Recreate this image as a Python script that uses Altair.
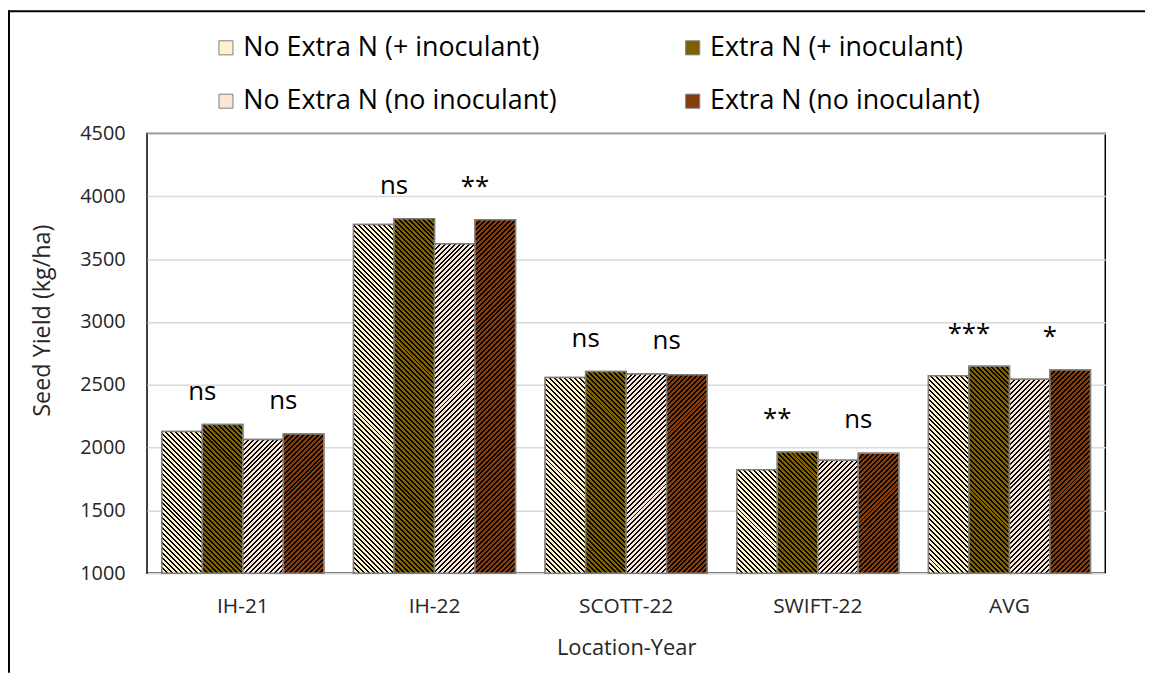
import math
import altair as alt
import pandas as pd

# ---------------- data ----------------
locations = ["IH-21", "IH-22", "SCOTT-22", "SWIFT-22", "AVG"]
series_names = [
    "No Extra N (+ inoculant)",
    "Extra N (+ inoculant)",
    "No Extra N (no inoculant)",
    "Extra N (no inoculant)",
]
no_extra_ino = [2128, 3775, 2558, 1824, 2573]
extra_ino = [2185, 3821, 2606, 1966, 2647]
no_extra_noino = [2066, 3623, 2587, 1900, 2544]
extra_noino = [2108, 3813, 2580, 1956, 2618]
labels_ino = ["ns", "ns", "ns", "**", "***"]
labels_noino = ["ns", "**", "ns", "ns", "*"]

# ---------------- style ----------------
base_colors = ["#FFF2CC", "#7F6000", "#FBE5D6", "#843C0C"]
hatch_dirs = ["\\", "\\", "/", "/"]
FONT = "Open Sans"
W, H = 965, 443
Y_MIN, Y_MAX = 1000, 4500
PAD_INNER = 0.155
step = W / (len(locations) - PAD_INNER + PAD_INNER)
bar_w = step * (1 - PAD_INNER) / len(series_names)

values_by_series = [no_extra_ino, extra_ino, no_extra_noino, extra_noino]
rows = []
for s, vals in zip(series_names, values_by_series):
    for loc, v in zip(locations, vals):
        rows.append({"loc": loc, "series": s, "value": v})
df = pd.DataFrame(rows)

txt_rows = []
for i, loc in enumerate(locations):
    txt_rows.append({"loc": loc, "series": series_names[0], "label": labels_ino[i],
                     "top": max(no_extra_ino[i], extra_ino[i])})
    txt_rows.append({"loc": loc, "series": series_names[2], "label": labels_noino[i],
                     "top": max(no_extra_noino[i], extra_noino[i])})
df_txt = pd.DataFrame(txt_rows)


def hatch(bg, direction, w, h, period=5, frac=0.4, ink="#000000"):
    # 45-degree stripes with an exact pixel period, expressed in bounding-box units
    n = int(math.ceil((w + h) / period))
    L = n * period
    a = w * L / (w * w + h * h)
    b = h * L / (w * w + h * h)
    if direction == "/":
        x1, y1, x2, y2 = 0, 0, a, b
    else:
        x1, y1, x2, y2 = 0, 1, a, 1 - b
    stops = []
    for k in range(n):
        o0 = k / n
        o1 = (k + frac) / n
        o2 = (k + 1) / n
        stops += [
            {"offset": round(o0, 6), "color": ink},
            {"offset": round(o1, 6), "color": ink},
            {"offset": round(o1, 6), "color": bg},
            {"offset": round(o2, 6), "color": bg},
        ]
    return {"gradient": "linear", "x1": x1, "y1": y1, "x2": round(x2, 6), "y2": round(y2, 6),
            "stops": stops}


conds = []
for si, (s, vals) in enumerate(zip(series_names, values_by_series)):
    for loc, v in zip(locations, vals):
        h_px = (v - Y_MIN) / (Y_MAX - Y_MIN) * H
        conds.append({
            "test": f"datum.loc === '{loc}' && datum.series === '{s}'",
            "value": hatch(base_colors[si], hatch_dirs[si], bar_w, h_px),
        })

x_enc = alt.X(
    "loc:N", sort=locations,
    scale=alt.Scale(domain=locations, paddingInner=PAD_INNER, paddingOuter=PAD_INNER / 2),
    axis=alt.Axis(title="Location-Year", ticks=False, domain=False, labelAngle=0,
                  labelFont=FONT, labelFontSize=21, labelColor="#262626", labelPadding=22,
                  titleFont=FONT, titleFontSize=22, titleFontWeight="normal",
                  titleColor="#262626", titlePadding=22),
)
xo_enc = alt.XOffset("series:N", scale=alt.Scale(domain=series_names, paddingInner=0, paddingOuter=0))
y_enc = alt.Y(
    "value:Q",
    scale=alt.Scale(domain=[Y_MIN, Y_MAX], nice=False, zero=False),
    axis=alt.Axis(title="Seed Yield (kg/ha)", values=list(range(1000, 4501, 500)), format="d",
                  grid=True, gridColor="#D9D9D9", gridWidth=1.5, ticks=False, domain=False,
                  labelFont=FONT, labelFontSize=20, labelColor="#262626", labelPadding=22,
                  titleFont=FONT, titleFontSize=23.5, titleFontWeight="normal", titleColor="#262626",
                  titleX=-105, titleY=188, titleAngle=270, titleAlign="center",
                  titleBaseline="middle"),
)

bars_base = alt.Chart(df).mark_bar(stroke="#7F7F7F", strokeWidth=1.5).encode(
    x=x_enc, xOffset=xo_enc, y=y_enc, y2=alt.datum(Y_MIN),
    color=alt.Color("series:N", scale=alt.Scale(domain=series_names, range=base_colors),
                    legend=alt.Legend(title=None, orient="none", legendX=66, legendY=-100,
                                      direction="horizontal", columns=2, symbolType="square",
                                      symbolSize=200, symbolStrokeColor="#7F7F7F",
                                      symbolStrokeWidth=1, labelFont=FONT, labelFontSize=27,
                                      labelColor="black", columnPadding=123, rowPadding=26,
                                      labelOffset=4, labelLimit=0, padding=0)),
)

bars_hatch = alt.Chart(df).mark_bar(stroke="#7F7F7F", strokeWidth=1.5).encode(
    x=x_enc, xOffset=xo_enc, y=y_enc, y2=alt.datum(Y_MIN),
    fill=alt.FillValue("#ffffff", condition=conds),
)

labels = alt.Chart(df_txt).mark_text(
    font=FONT, fontSize=26, color="black", baseline="alphabetic", dx=bar_w / 2, dy=-25
).encode(x=x_enc, xOffset=xo_enc, y=alt.Y("top:Q"), text="label:N")

frame_df = pd.DataFrame({"k": [0]})
left_frame = alt.Chart(frame_df).mark_rule(color="black", strokeWidth=2).encode(
    x=alt.value(-139), y=alt.value(-124), y2=alt.value(H + 100))
top_frame = alt.Chart(frame_df).mark_rule(color="black", strokeWidth=2).encode(
    y=alt.value(-123), x=alt.value(-140), x2=alt.value(W + 40))

chart = alt.layer(bars_base, bars_hatch, labels, left_frame, top_frame).properties(
    width=W, height=H,
    autosize=alt.AutoSizeParams(type="none"),
    padding={"left": 140, "top": 124, "right": 40, "bottom": 100},
    background="white",
).configure_view(stroke="black", strokeWidth=1.5)

chart.save("out.html", embed_options={"renderer": "svg", "actions": False})
